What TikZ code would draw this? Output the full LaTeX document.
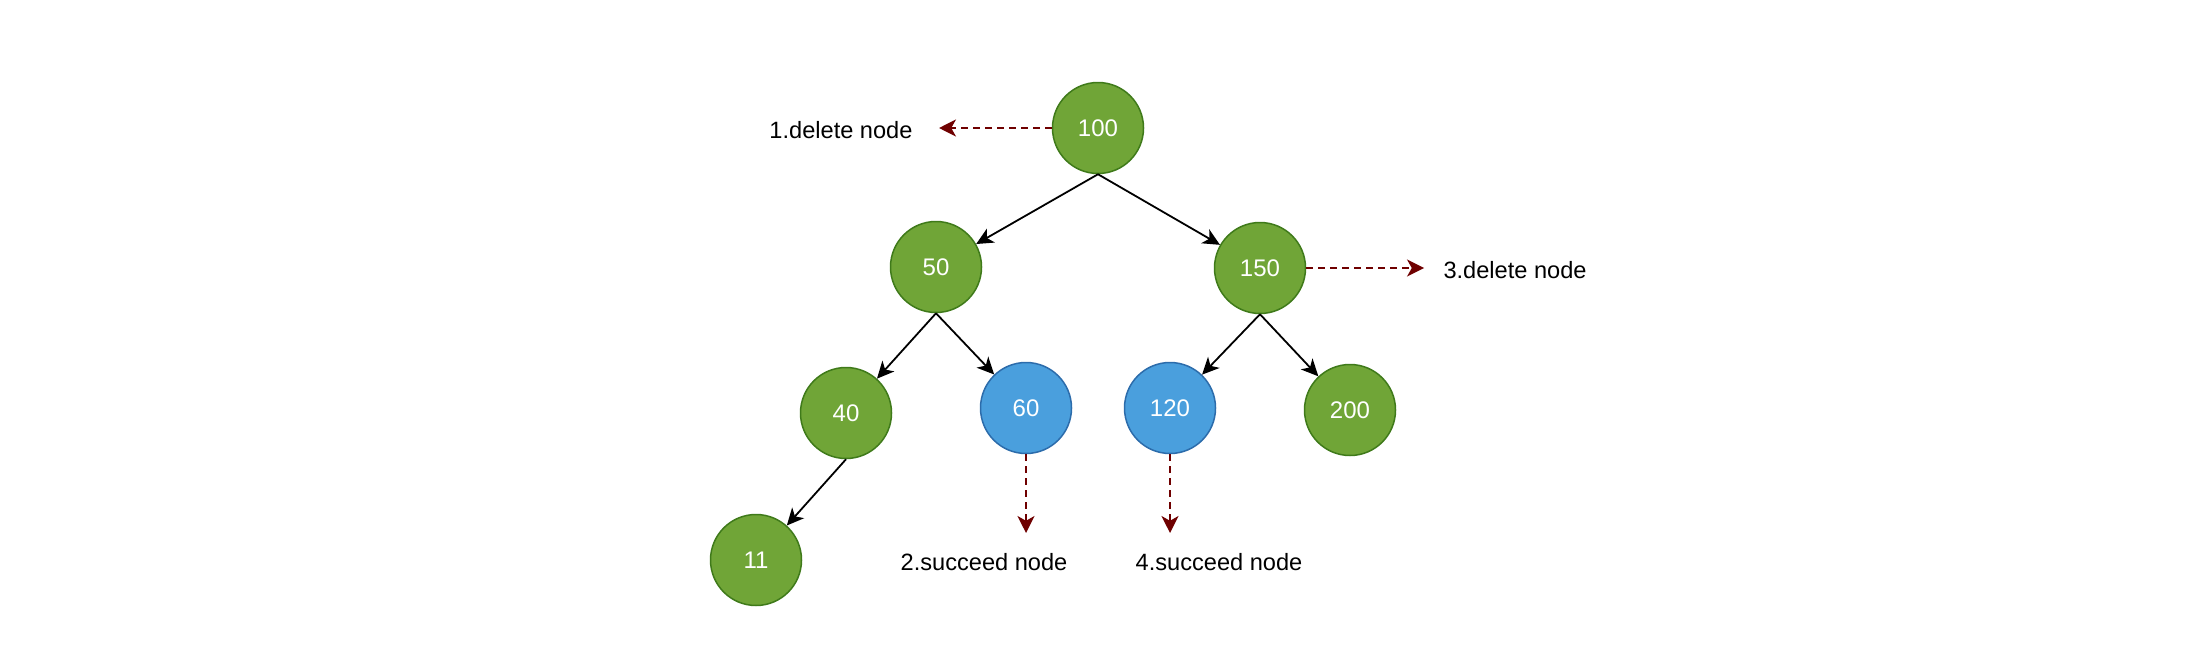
\documentclass[tikz,border=0pt]{standalone}
\usepackage{fontspec}
\setmainfont{Liberation Sans}
\usetikzlibrary{arrows.meta}
\definecolor{gfill}{HTML}{70A537}
\definecolor{gline}{HTML}{3F7A1A}
\definecolor{bfill}{HTML}{4A9FDD}
\definecolor{bline}{HTML}{2C6CAB}
\definecolor{dred}{HTML}{6F0000}
\tikzset{
  tnode/.style={circle, inner sep=0pt, minimum size=45.5pt, line width=0.75pt, text=white,
    font=\fontsize{12}{14}\selectfont},
  gnode/.style={tnode, fill=gfill, draw=gline},
  bnode/.style={tnode, fill=bfill, draw=bline},
  lbl/.style={inner sep=0pt, font=\fontsize{11.8}{14}\selectfont, text=black},
  edge/.style={line width=0.9pt, draw=black, -{Stealth[length=8.5pt,width=8pt,inset=2.4pt]}},
  hint/.style={line width=0.8pt, draw=dred, dash pattern=on 3.5pt off 2.5pt,
    -{Stealth[length=8.5pt,width=8.5pt,inset=2.4pt,fill=dred]}}
}
\begin{document}
\begin{tikzpicture}[x=0.5pt,y=-0.5pt]
\useasboundingbox (0,0) rectangle (2194,648);
\node[gnode] (n100) at (1098,128) {100};
\node[gnode] (n50) at (936,267) {50};
\node[gnode] (n150) at (1260,268) {150};
\node[gnode] (n40) at (846,413) {40};
\node[bnode] (n60) at (1026,408) {60};
\node[bnode] (n120) at (1170,408) {120};
\node[gnode] (n200) at (1350,410) {200};
\node[gnode] (n11) at (756,560) {11};

\node[lbl] (t1) at (841,130) {1.delete node};
\node[lbl] (t3) at (1515,270) {3.delete node};
\node[lbl] (t2) at (984,562) {2.succeed node};
\node[lbl] (t4) at (1219,562) {4.succeed node};

\coordinate (a1) at (939,128);
\coordinate (a3) at (1424,268);
\coordinate (a2) at (1026,533);
\coordinate (a4) at (1170,533);

\draw[edge] (n100.south) -- (n50);
\draw[edge] (n100.south) -- (n150);
\draw[edge] (n50.south) -- (n40);
\draw[edge] (n50.south) -- (n60);
\draw[edge] (n150.south) -- (n120);
\draw[edge] (n150.south) -- (n200);
\draw[edge] (n40.south) -- (n11);

\draw[hint] (n100.west) -- (a1);
\draw[hint] (n150.east) -- (a3);
\draw[hint] (n60.south) -- (a2);
\draw[hint] (n120.south) -- (a4);
\end{tikzpicture}
\end{document}
